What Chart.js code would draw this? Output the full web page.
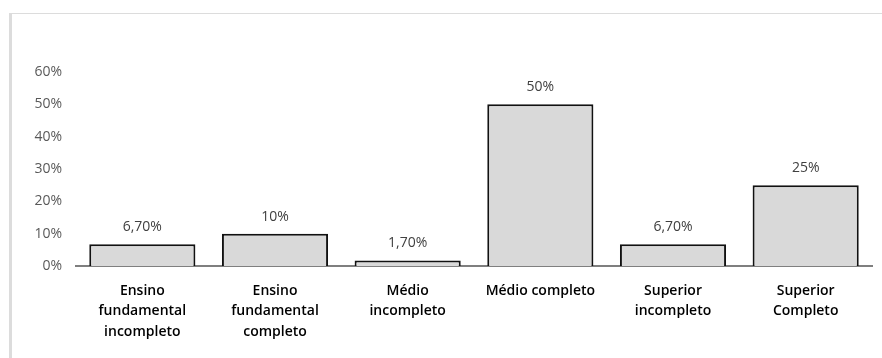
<!DOCTYPE html>
<html>
<head>
<meta charset="utf-8">
<script src="https://cdn.jsdelivr.net/npm/chart.js@4.4.1/dist/chart.umd.min.js"></script>
<style>
  html, body { margin: 0; padding: 0; background: #fff; }
  #wrap { position: relative; width: 882px; height: 358px; }
</style>
</head>
<body>
<div id="wrap"><canvas id="c"></canvas></div>
<script>
const categories = [
  ["Ensino", "fundamental", "incompleto"],
  ["Ensino", "fundamental", "completo"],
  ["Médio", "incompleto"],
  ["Médio completo"],
  ["Superior", "incompleto"],
  ["Superior", "Completo"]
];
const values = [6.7, 10, 1.7, 50, 6.7, 25];
const valueLabels = ["6,70%", "10%", "1,70%", "50%", "6,70%", "25%"];
const yTicks = [0, 10, 20, 30, 40, 50, 60];

const frame = {
  id: 'frame',
  beforeDraw(chart) {
    const ctx = chart.ctx;
    ctx.save();
    ctx.fillStyle = '#fff';
    ctx.fillRect(0, 0, chart.width, chart.height);
    ctx.strokeStyle = '#dcdcdc';
    ctx.lineWidth = 1;
    ctx.beginPath();
    ctx.moveTo(10, 13.5);
    ctx.lineTo(chart.width, 13.5);
    ctx.stroke();
    ctx.lineWidth = 3;
    ctx.beginPath();
    ctx.moveTo(10.5, 13);
    ctx.lineTo(10.5, chart.height);
    ctx.stroke();
    ctx.restore();
  }
};

const dataLabels = {
  id: 'dataLabels',
  afterDatasetsDraw(chart) {
    const ctx = chart.ctx;
    const meta = chart.getDatasetMeta(0);
    ctx.save();
    ctx.font = '14px "Open Sans"';
    ctx.fillStyle = '#404040';
    ctx.textAlign = 'center';
    ctx.textBaseline = 'middle';
    meta.data.forEach((bar, i) => {
      ctx.fillText(valueLabels[i], bar.x, bar.y - 17);
    });
    ctx.restore();
  }
};

new Chart(document.getElementById('c'), {
  type: 'bar',
  data: {
    labels: categories,
    datasets: [{
      data: values,
      backgroundColor: '#d9d9d9',
      borderColor: '#111',
      borderWidth: 2,
      borderSkipped: 'start',
      categoryPercentage: 0.8,
      barPercentage: 1.0
    }]
  },
  options: {
    responsive: true,
    maintainAspectRatio: false,
    animation: false,
    layout: { padding: { top: 72, right: 10, left: 0, bottom: 0 } },
    plugins: { legend: { display: false }, tooltip: { enabled: false } },
    scales: {
      y: {
        min: 0, max: 60,
        afterBuildTicks(scale) { scale.ticks = yTicks.map(v => ({ value: v })); },
        afterFit(scale) { scale.width = 76; },
        grid: { display: false, drawTicks: false },
        border: { display: false },
        ticks: {
          padding: 14,
          color: '#595959',
          font: { family: 'Open Sans', size: 14 },
          callback: v => v + '%'
        }
      },
      x: {
        afterFit(scale) { scale.height = 92; },
        grid: { display: false, drawTicks: false },
        border: { display: true, color: '#7f7f7f', width: 2 },
        ticks: {
          padding: 15,
          color: '#000',
          maxRotation: 0,
          autoSkip: false,
          font: { family: 'Open Sans', size: 14, weight: '600', lineHeight: 1.45 }
        }
      }
    }
  },
  plugins: [frame, dataLabels]
});
</script>
</body>
</html>
